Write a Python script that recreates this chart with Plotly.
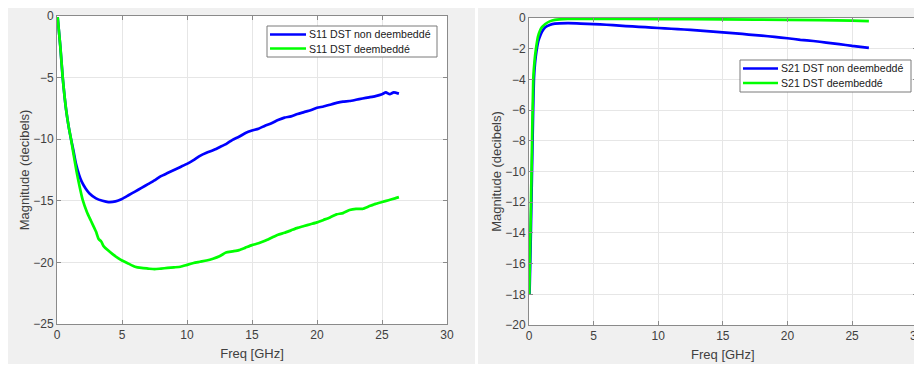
import plotly.graph_objects as go

# ---------------- data ----------------
s11_nd_f = [0.05, 0.25, 0.44, 0.7, 0.9, 1.08, 1.26, 1.46, 1.7, 1.9, 2.2, 2.5, 3.0, 3.5, 3.95, 4.5,
            5.0, 5.5, 6.0, 6.5, 7.0, 7.5, 8.0, 8.5, 9.0, 9.5, 10.0, 10.5, 11.0, 11.5, 12.0, 12.5,
            13.0, 13.5, 14.0, 14.5, 15.0, 15.5, 16.0, 16.5, 17.0, 17.5, 18.0, 18.5, 19.0, 19.5,
            20.0, 20.5, 21.0, 21.5, 22.0, 22.5, 23.0, 23.5, 24.0, 24.5, 25.0, 25.3, 25.6, 25.9, 26.3]
s11_nd_db = [-0.1, -2.4, -5.0, -7.6, -9.0, -10.0, -10.9, -12.0, -12.9, -13.45, -14.0, -14.4, -14.8, -15.0, -15.1, -15.05,
             -14.85, -14.55, -14.25, -13.95, -13.65, -13.35, -13.0, -12.75, -12.5, -12.25, -12.0, -11.7, -11.35, -11.1, -10.9, -10.65,
             -10.4, -10.05, -9.8, -9.5, -9.3, -9.15, -8.9, -8.7, -8.45, -8.25, -8.15, -7.95, -7.8, -7.65,
             -7.45, -7.35, -7.2, -7.05, -6.95, -6.9, -6.8, -6.7, -6.6, -6.5, -6.35, -6.2, -6.35, -6.2, -6.3]

s11_d_f = [0.05, 0.25, 0.44, 0.7, 0.9, 1.08, 1.22, 1.5, 1.75, 1.97, 2.3, 2.6, 3.0, 3.2, 3.4, 3.6, 3.9, 4.3, 4.7,
           5.0, 5.5, 6.0, 6.5, 7.0, 7.5, 8.0, 8.5, 9.0, 9.5, 10.0, 10.5, 11.0, 11.5, 12.0, 12.5,
           13.0, 13.5, 14.0, 14.5, 15.0, 15.5, 16.0, 16.5, 17.0, 17.5, 18.0, 18.5, 19.0, 19.5,
           20.0, 20.5, 21.0, 21.5, 22.0, 22.5, 23.0, 23.5, 24.0, 24.5, 25.0, 25.5, 26.0, 26.3]
s11_d_db = [-0.1, -2.4, -5.0, -7.6, -9.0, -10.0, -10.9, -12.6, -13.9, -14.9, -15.9, -16.6, -17.5, -18.1, -18.3, -18.7, -19.0, -19.35, -19.65,
            -19.85, -20.1, -20.35, -20.45, -20.5, -20.55, -20.5, -20.45, -20.4, -20.35, -20.2, -20.05, -19.95, -19.85, -19.7, -19.5,
            -19.2, -19.1, -19.0, -18.8, -18.6, -18.45, -18.25, -18.0, -17.75, -17.6, -17.4, -17.2, -17.05, -16.9,
            -16.75, -16.55, -16.35, -16.1, -16.0, -15.75, -15.65, -15.65, -15.45, -15.25, -15.1, -14.95, -14.8, -14.7]

s21_nd_f = [0.04, 0.12, 0.22, 0.32, 0.38, 0.47, 0.57, 0.72, 0.89, 1.0, 1.26, 1.6, 2.0, 3.0, 4.0, 5.0, 6.0, 7.0,
            8.0, 9.0, 10.0, 11.0, 12.0, 13.0, 14.0, 15.0, 16.0, 17.0, 18.0, 19.0, 20.0, 21.0, 22.0, 23.0,
            24.0, 25.0, 26.3]
s21_nd_db = [-18.0, -15.0, -10.5, -6.0, -4.0, -2.9, -2.2, -1.5, -1.1, -0.9, -0.6, -0.45, -0.37, -0.34, -0.36, -0.4, -0.44, -0.5,
             -0.55, -0.6, -0.65, -0.7, -0.75, -0.8, -0.87, -0.94, -1.0, -1.08, -1.15, -1.23, -1.32, -1.42, -1.5, -1.6,
             -1.7, -1.82, -1.95]

s21_d_f = [0.02, 0.1, 0.2, 0.33, 0.44, 0.54, 0.7, 0.87, 1.0, 1.26, 1.6, 2.0, 3.0, 5.0, 10.0, 15.0, 20.0, 25.0, 26.3]
s21_d_db = [-18.0, -14.4, -9.9, -4.0, -2.7, -2.0, -1.2, -0.78, -0.6, -0.39, -0.22, -0.12, -0.06, -0.06, -0.07, -0.09, -0.12, -0.17, -0.2]

x_ticks = [0, 5, 10, 15, 20, 25, 30]
y1_ticks = [0, -5, -10, -15, -20, -25]
y2_ticks = [0, -2, -4, -6, -8, -10, -12, -14, -16, -18, -20]

labels_s11 = ["S11 DST non deembeddé", "S11 DST deembeddé"]
labels_s21 = ["S21 DST non deembeddé", "S21 DST deembeddé"]

# ---------------- figure ----------------
PAGE_W, PAGE_H = 922, 366
OFF = 8                      # default page body margin
W, H = PAGE_W - OFF, PAGE_H - OFF
FONT = "Liberation Sans, Arial, sans-serif"
BLUE, GREEN = "#0000ff", "#00ff00"
LINEW = 2.7


def px_x(p):
    return (p - OFF) / W


def px_y(p):
    return 1 - (p - OFF) / H


fig = go.Figure()
line_shape = dict(shape="spline", smoothing=0.5)
fig.add_trace(go.Scatter(x=s11_nd_f, y=s11_nd_db, mode="lines", name=labels_s11[0], showlegend=False,
                         line=dict(color=BLUE, width=LINEW, **line_shape), xaxis="x", yaxis="y"))
fig.add_trace(go.Scatter(x=s11_d_f, y=s11_d_db, mode="lines", name=labels_s11[1], showlegend=False,
                         line=dict(color=GREEN, width=LINEW, **line_shape), xaxis="x", yaxis="y"))
fig.add_trace(go.Scatter(x=s21_nd_f, y=s21_nd_db, mode="lines", name=labels_s21[0], showlegend=False,
                         line=dict(color=BLUE, width=LINEW, **line_shape), xaxis="x2", yaxis="y2"))
fig.add_trace(go.Scatter(x=s21_d_f, y=s21_d_db, mode="lines", name=labels_s21[1], showlegend=False,
                         line=dict(color=GREEN, width=LINEW, **line_shape), xaxis="x2", yaxis="y2"))

AX = "#8a8a8a"
GRID = "#e6e6e6"
TICKF = dict(family=FONT, size=12, color="#404040")
TITLEF = dict(family=FONT, size=13, color="#404040")

common = dict(showgrid=True, gridcolor=GRID, gridwidth=1, showline=True, linecolor=AX, linewidth=1,
              mirror="ticks", ticks="inside", ticklen=4, tickcolor=AX, zeroline=False,
              tickfont=TICKF, fixedrange=True, automargin=False)

fig.update_layout(
    width=W, height=H, autosize=False,
    margin=dict(l=0, r=0, t=0, b=0, pad=0),
    paper_bgcolor="white", plot_bgcolor="white",
    font=dict(family=FONT),
    showlegend=False,
    xaxis=dict(domain=[px_x(57), px_x(447)], range=[0, 30], tickvals=x_ticks, anchor="y",
               title=dict(text="Freq [GHz]", font=TITLEF, standoff=7), **common),
    yaxis=dict(domain=[px_y(324), px_y(16)], range=[-25, 0], tickvals=y1_ticks, anchor="x",
               title=dict(text="Magnitude (decibels)", font=TITLEF, standoff=0), **common),
    xaxis2=dict(domain=[px_x(529), px_x(916.7)], range=[0, 30], tickvals=x_ticks, anchor="y2",
                ticklabeloverflow="allow",
                title=dict(text="Freq [GHz]", font=TITLEF, standoff=7), **common),
    yaxis2=dict(domain=[px_y(325), px_y(18)], range=[-20, 0], tickvals=y2_ticks, anchor="x2",
                title=dict(text="Magnitude (decibels)", font=TITLEF, standoff=0), **common),
)

shapes = [
    # grey figure backgrounds
    dict(type="rect", xref="paper", yref="paper", x0=px_x(8), x1=px_x(475), y0=px_y(364), y1=px_y(8),
         fillcolor="#f0f0f0", line=dict(width=0), layer="below"),
    dict(type="rect", xref="paper", yref="paper", x0=px_x(478), x1=1, y0=px_y(364), y1=px_y(8),
         fillcolor="#f0f0f0", line=dict(width=0), layer="below"),
    # white axes areas
    dict(type="rect", xref="paper", yref="paper", x0=px_x(57), x1=px_x(447), y0=px_y(324), y1=px_y(16),
         fillcolor="white", line=dict(width=0), layer="below"),
    dict(type="rect", xref="paper", yref="paper", x0=px_x(529), x1=px_x(916.7), y0=px_y(325), y1=px_y(18),
         fillcolor="white", line=dict(width=0), layer="below"),
]

annotations = []
LEG_FONT = dict(family=FONT, size=10.6, color="#1a1a1a")


def add_legend(box, line_x0, line_x1, text_x, rows, labels, colors):
    bx0, bx1, by0, by1 = box
    shapes.append(dict(type="rect", xref="paper", yref="paper", x0=px_x(bx0), x1=px_x(bx1),
                       y0=px_y(by1), y1=px_y(by0), fillcolor="white",
                       line=dict(color="#7a7a7a", width=1), layer="above"))
    for ry, lab, col in zip(rows, labels, colors):
        shapes.append(dict(type="line", xref="paper", yref="paper", x0=px_x(line_x0), x1=px_x(line_x1),
                           y0=px_y(ry), y1=px_y(ry), line=dict(color=col, width=LINEW), layer="above"))
        annotations.append(dict(xref="paper", yref="paper", x=px_x(text_x), y=px_y(ry), text=lab,
                                showarrow=False, xanchor="left", yanchor="middle", font=LEG_FONT))


add_legend((267, 437, 26, 57), 270, 306, 307, [34.5, 48.5], labels_s11, [BLUE, GREEN])
add_legend((740, 911, 60, 92), 743, 778, 779, [68.5, 83], labels_s21, [BLUE, GREEN])

fig.update_layout(shapes=shapes, annotations=annotations)

fig.write_html("out.html", config={"displayModeBar": False})
